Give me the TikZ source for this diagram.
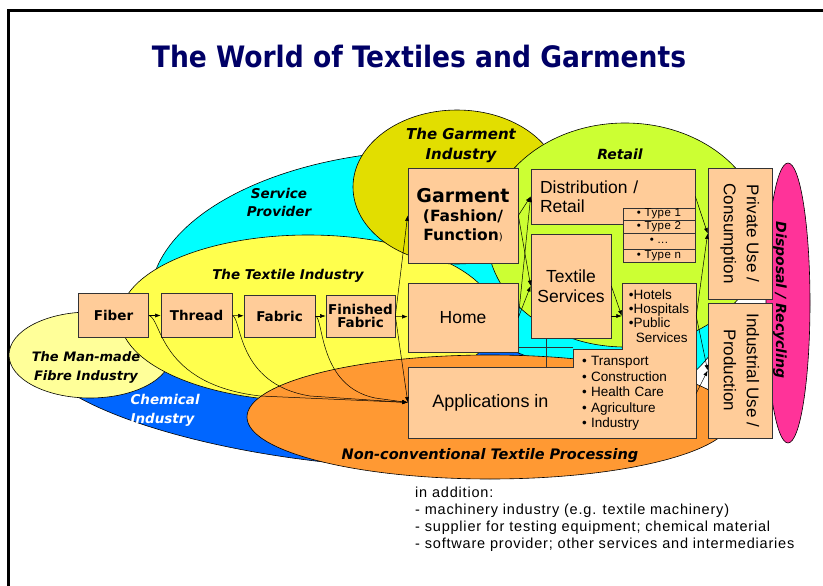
\documentclass[tikz,border=0pt]{standalone}
\usepackage{fontspec}
\setmainfont{Liberation Sans}
\newfontfamily\stagefont{DejaVu Sans}
\newfontfamily\headfont{DejaVu Sans Condensed}
\usetikzlibrary{arrows.meta}

\definecolor{peach}{RGB}{255,204,153}
\definecolor{navy}{RGB}{0,0,102}
\definecolor{aqua}{RGB}{0,255,255}
\definecolor{garmentyellow}{RGB}{226,222,0}
\definecolor{retailgreen}{RGB}{204,255,51}
\definecolor{textileyellow}{RGB}{255,255,77}
\definecolor{fibreyellow}{RGB}{255,255,153}
\definecolor{chemblue}{RGB}{0,102,255}
\definecolor{nctorange}{RGB}{255,153,51}
\definecolor{recyclepink}{RGB}{255,51,153}

% text turned to read from top to bottom
\newcommand{\turnedtext}[1]{\rotatebox{-90}{\begin{tabular}{@{}c@{}}#1\end{tabular}}}

\tikzset{
  sector/.style={draw=black, line width=0.6pt},
  stage/.style={draw=black!80, fill=peach, line width=0.7pt, inner sep=0pt, align=center,
    font=\stagefont\bfseries\fontsize{13.5}{13.5}\selectfont},
  outlet/.style={draw=black!80, fill=peach, line width=0.7pt, inner sep=0pt,
    font=\fontsize{17.5}{20}\selectfont},
  area/.style={inner sep=0pt, font=\fontsize{13.5}{15.5}\selectfont},
  typecell/.style={draw=black!80, fill=peach, line width=0.7pt, inner sep=0pt,
    minimum width=72, font=\fontsize{11.5}{11.5}\selectfont\addfontfeature{LetterSpace=4}},
  tag/.style={align=center, font=\stagefont\bfseries\itshape\fontsize{14}{19}\selectfont},
  flow/.style={-{Latex[length=5.5pt,width=4pt]}, line width=0.5pt},
}

\begin{document}
\begin{tikzpicture}[x=1pt,y=-1pt]
\useasboundingbox (0,0) rectangle (823,586);

% page frame
\draw[line width=3pt] (8.5,586) -- (8.5,10.5) -- (823,10.5);

\node[font=\headfont\bfseries\fontsize{29.5}{30}\selectfont, text=navy, anchor=base] (title) at (419,68) {The World of Textiles and Garments};

% the industries
\draw[sector, fill=aqua] (440,300) ellipse [x radius=290, y radius=150];
\draw[sector, fill=chemblue, rotate around={-7:(320,385)}] (320,385) ellipse [x radius=285, y radius=76];
\draw[sector, fill=fibreyellow] (90,355) ellipse [x radius=81, y radius=43];
\draw[sector, fill=textileyellow] (308,318) ellipse [x radius=188, y radius=83];
\draw[sector, fill=garmentyellow] (457,187) ellipse [x radius=104, y radius=77];
\draw[sector, fill=retailgreen] (625,235) ellipse [x radius=138, y radius=112];
\draw[sector, fill=nctorange] (490,417) ellipse [x radius=243, y radius=62];
\draw[sector, fill=recyclepink] (788,303) ellipse [x radius=22, y radius=140];

\node[tag, font=\stagefont\bfseries\itshape\fontsize{15}{20}\selectfont] (garmentlbl) at (461,145) {The Garment\\Industry};
\node[tag] (retaillbl) at (620,154) {Retail};
\node[tag, font=\stagefont\bfseries\itshape\fontsize{13.5}{18}\selectfont] (servicelbl) at (279,202) {Service\\Provider};
\node[tag, font=\stagefont\bfseries\itshape\fontsize{13.5}{18}\selectfont] (textilelbl) at (288,276) {The Textile Industry};
\node[tag, font=\stagefont\bfseries\itshape\fontsize{13}{19}\selectfont] (fibrelbl) at (86,367) {The Man-made\\Fibre Industry};
\node[tag, align=left, text=white, anchor=west, font=\stagefont\bfseries\itshape\fontsize{13.5}{19}\selectfont] (chemlbl) at (127,410) {Chemical\\Industry};
\node[tag, font=\stagefont\bfseries\itshape\fontsize{14.5}{19}\selectfont] (nctlbl) at (490,456) {Non-conventional Textile Processing};
\node[tag, rotate=-90] (disposal) at (780,300) {Disposal / Recycling};

% textile chain
\node[stage, minimum width=70, minimum height=44] (fiber) at (113.5,315.5) {Fiber};
\node[stage, minimum width=71, minimum height=44] (thread) at (196.5,315.5) {Thread};
\node[stage, minimum width=71, minimum height=42] (fabric) at (279.5,316) {Fabric};
\node[stage, minimum width=69, minimum height=42] (finished) at (360.5,316) {Finished\\Fabric};

% products
\node[stage, minimum width=110, minimum height=95, font=\stagefont\bfseries\fontsize{15.5}{19}\selectfont] (garment) at (463,215.5)
  {{\fontsize{19}{22}\selectfont Garment}\\(Fashion/\\Function{\mdseries\fontsize{10}{10}\selectfont)}};
\node[outlet, minimum width=110, minimum height=69] (home) at (463,317.5) {Home};

\fill[peach] (408,367) -- (573,367) -- (573,349) -- (622,349) -- (622,283) -- (696,283) -- (696,438) -- (408,438) -- cycle;
\draw[black!80, line width=0.7pt] (408,367) -- (573,367) -- (573,349) -- (622,349) -- (622,283) -- (696,283) -- (696,438) -- (408,438) -- cycle;
\draw[black!80, line width=0.7pt] (518,347) -- (573,347) (546,338) -- (546,367);
\node[area, minimum width=165, minimum height=71, font=\fontsize{18}{20}\selectfont] (appl) at (490.5,402.5) {Applications in};
\node[area, minimum width=123, minimum height=89, text width=105, inner xsep=9, align=left] (uses) at (634.5,393.5)
  {\textbullet{} Transport\\\textbullet{} Construction\\\textbullet{} Health Care\\\textbullet{} Agriculture\\\textbullet{} Industry};
\node[area, minimum width=74, minimum height=66, align=left, font=\fontsize{13.5}{14.3}\selectfont] (hotels) at (659,316)
  {\textbullet Hotels\\\textbullet Hospitals\\\textbullet Public\\\phantom{\textbullet}\,Services};

% trade
\node[outlet, minimum width=164, minimum height=55, text width=146, inner xsep=9, align=left, font=\fontsize{17.5}{19}\selectfont] (dist) at (613,196.5) {Distribution /\\Retail};
\node[typecell, minimum height=12] (type1) at (659,214) {\textbullet{} Type 1};
\node[typecell, minimum height=13] (type2) at (659,226.5) {\textbullet{} Type 2};
\node[typecell, minimum height=16] (typedots) at (659,241) {\textbullet{} ...};
\node[typecell, minimum height=13] (typen) at (659,255.5) {\textbullet{} Type n};
\node[outlet, minimum width=80, minimum height=104, align=center] (tserv) at (571,286) {Textile\\Services};

% use
\node[outlet, minimum width=64, minimum height=131, font=\fontsize{17}{23}\selectfont] (private) at (740,233.5) {\turnedtext{Private Use /\\Consumption}};
\node[outlet, minimum width=64, minimum height=135, font=\fontsize{17}{23}\selectfont] (industrial) at (740,370.5) {\turnedtext{Industrial Use /\\Production}};

% flows
\draw[flow] (fiber) -- (thread);
\draw[flow] (thread) -- (fabric);
\draw[flow] (fabric) -- (finished);
\draw[flow] (finished) -- (home);
\draw[flow] (finished.east) -- (garment.west);
\draw[flow] (finished.east) -- (appl.west);
\draw[flow] (fiber.east) .. controls (162,318) and (158,384) .. (260,396) -- (appl.west);
\draw[flow] (thread.east) .. controls (242,318) and (236,384) .. (310,396) -- (appl.west);
\draw[flow] (fabric.east) .. controls (324,318) and (318,386) .. (375,398) -- (appl.west);
\draw[flow] (garment.east) -- (dist.west);
\draw[flow] (garment.east) -- (tserv.west);
\draw[flow] (home.east) -- (dist.west);
\draw[flow] (home.east) -- (tserv.west);
\draw[flow] (tserv.east) -- (hotels.west);
\draw[flow] (tserv.east |- hotels.west) -- (hotels.west);
\draw[flow] (dist.east) -- (private.west);
\draw[flow] (hotels.east) -- (private.west);
\draw[flow] (hotels.east) -- (industrial.west);
\draw[flow] (uses.east) -- (industrial.west);

\node[anchor=north west, inner sep=0pt, align=left, font=\fontsize{14.5}{16.8}\selectfont\addfontfeature{LetterSpace=5.5}] (extras) at (415,487)
  {in addition:\\- machinery industry (e.g. textile machinery)\\- supplier for testing equipment; chemical material\\- software provider; other services and intermediaries};
\end{tikzpicture}
\end{document}
